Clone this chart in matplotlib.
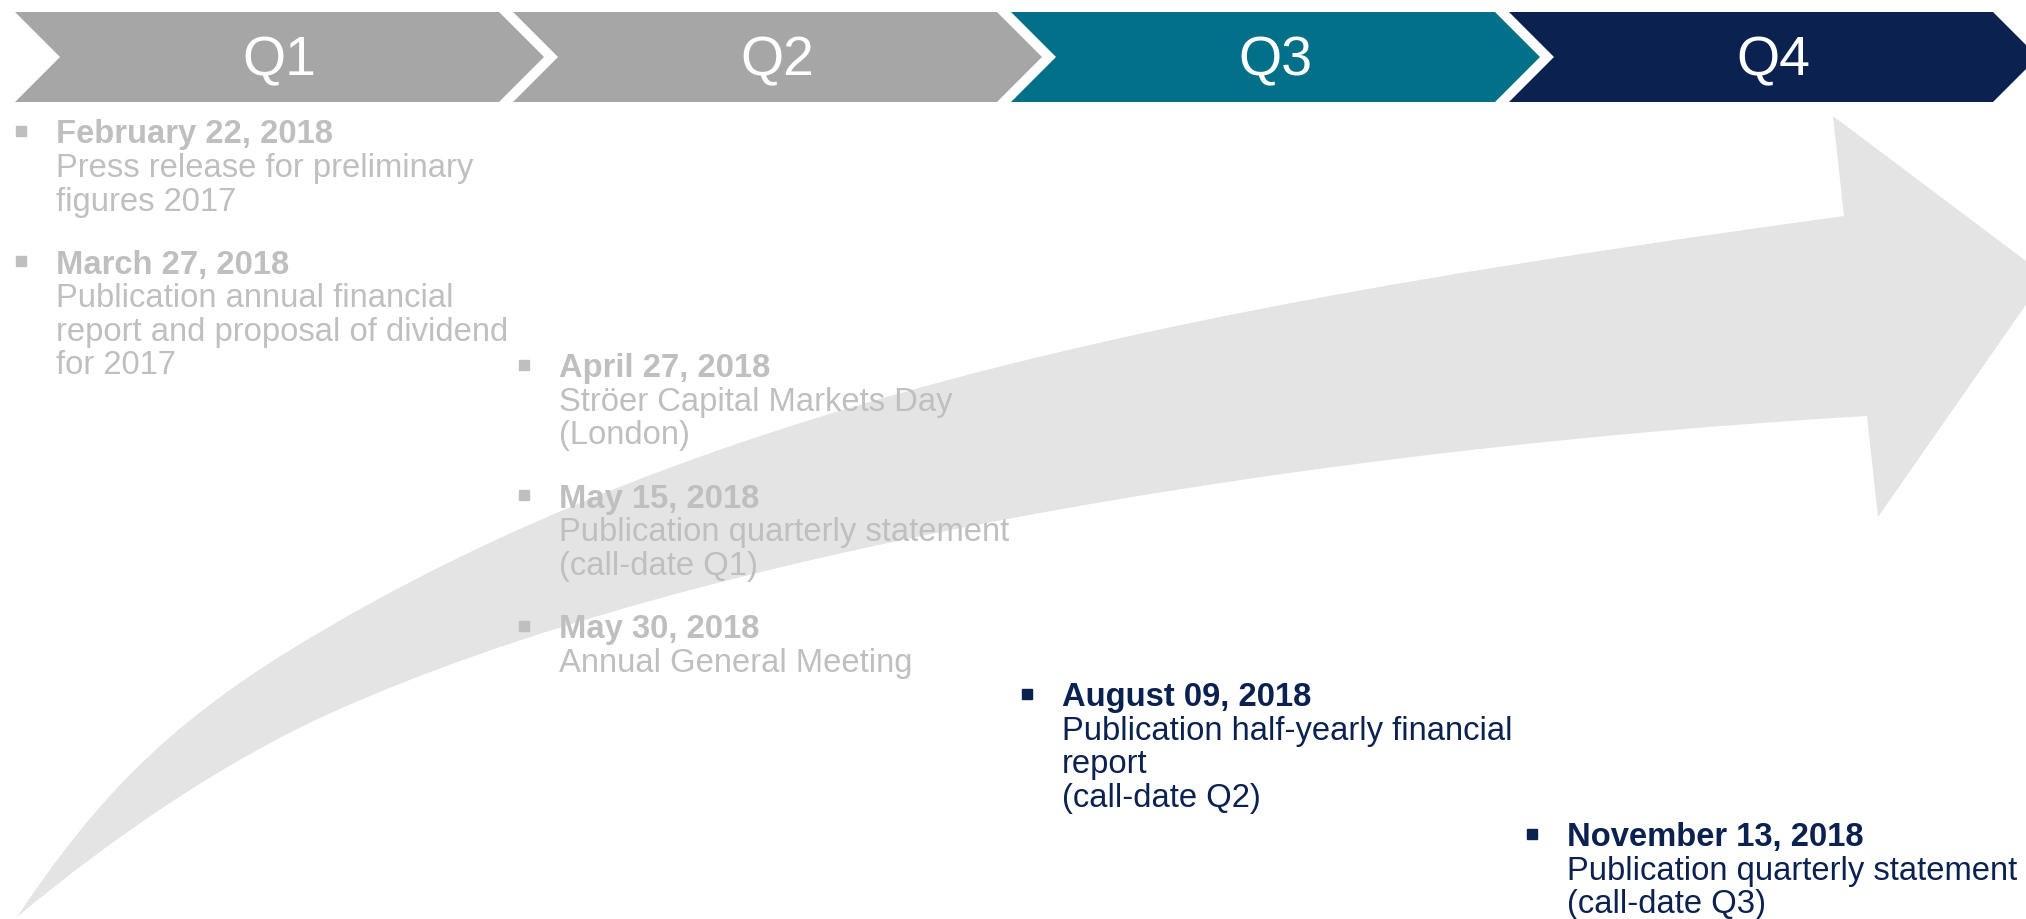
import matplotlib.pyplot as plt
from matplotlib.path import Path
from matplotlib.patches import PathPatch, Polygon

plt.rcParams['font.family'] = ['Liberation Sans', 'DejaVu Sans']

# quarters
quarters = ["Q1", "Q2", "Q3", "Q4"]
quarter_colors = ["#A6A6A6", "#A6A6A6", "#03708A", "#0B2150"]

# events
event_dates = ["February 22, 2018", "March 27, 2018", "April 27, 2018",
               "May 15, 2018", "May 30, 2018", "August 09, 2018",
               "November 13, 2018"]
event_lines = [
    ["Press release for preliminary", "figures 2017"],
    ["Publication annual financial", "report and proposal of dividend", "for 2017"],
    ["Ströer Capital Markets Day", "(London)"],
    ["Publication quarterly statement", "(call-date Q1)"],
    ["Annual General Meeting"],
    ["Publication half-yearly financial", "report", "(call-date Q2)"],
    ["Publication quarterly statement", "(call-date Q3)"],
]
event_quarter = [0, 0, 1, 1, 1, 2, 3]
event_done = [True, True, True, True, True, False, False]

# layout (pixels, y downwards)
event_base = [143.5, 274, 377.5, 508, 638.5, 706.5, 846.5]
col_left = [56, 559, 1062, 1567]
W, H = 2026, 920
pitch = 33.5
fs = 23.6

fig = plt.figure(figsize=(W / 100, H / 100), dpi=100)
ax = fig.add_axes([0, 0, 1, 1])
ax.set_xlim(0, W)
ax.set_ylim(H, 0)
ax.axis('off')

# big curved arrow in the background (outline: upper edge, head, lower edge)
arrow_verts = [(17, 918),
               (97, 798), (168, 727), (287, 653),
               (712, 390), (1249, 299), (1844, 217),
               (1833, 117), (2046, 277), (1878, 518), (1867, 417),
               (1320, 449), (698, 549), (333, 713),
               (224, 762), (113, 838), (17, 918),
               (17, 918)]
C4 = Path.CURVE4
arrow_codes = [Path.MOVETO, C4, C4, C4, C4, C4, C4,
               Path.LINETO, Path.LINETO, Path.LINETO, Path.LINETO,
               C4, C4, C4, C4, C4, C4, Path.CLOSEPOLY]
ax.add_patch(PathPatch(Path(arrow_verts, arrow_codes), facecolor="#E4E4E4",
                       edgecolor="none", zorder=1))

# chevron header
seg_w, tip, y0, y1 = 484, 45, 13, 103
ym = (y0 + y1) / 2
for i, q in enumerate(quarters):
    x0 = 15 + 498 * i
    pts = [(x0, y0), (x0 + seg_w, y0), (x0 + seg_w + tip, ym),
           (x0 + seg_w, y1), (x0, y1), (x0 + tip, ym)]
    ax.add_patch(Polygon(pts, closed=True, facecolor=quarter_colors[i],
                         edgecolor="none", zorder=2))
    ax.text(x0 + (seg_w + tip) / 2, 75.5, q, color="white", fontsize=40,
            ha="center", va="baseline", zorder=3)

# event list
for k, date in enumerate(event_dates):
    col = "#BFBFBF" if event_done[k] else "#0B2150"
    xl = col_left[event_quarter[k]]
    yb = event_base[k]
    ax.plot(xl - 35, yb - 12, marker="s", markersize=7, color=col, zorder=3)
    ax.text(xl, yb, date, color=col, fontsize=fs, fontweight="bold",
            ha="left", va="baseline", zorder=3)
    for j, line in enumerate(event_lines[k]):
        ax.text(xl, yb + pitch * (j + 1), line, color=col, fontsize=fs,
                ha="left", va="baseline", zorder=3)

fig.savefig("out.png", dpi=100, facecolor="white")
